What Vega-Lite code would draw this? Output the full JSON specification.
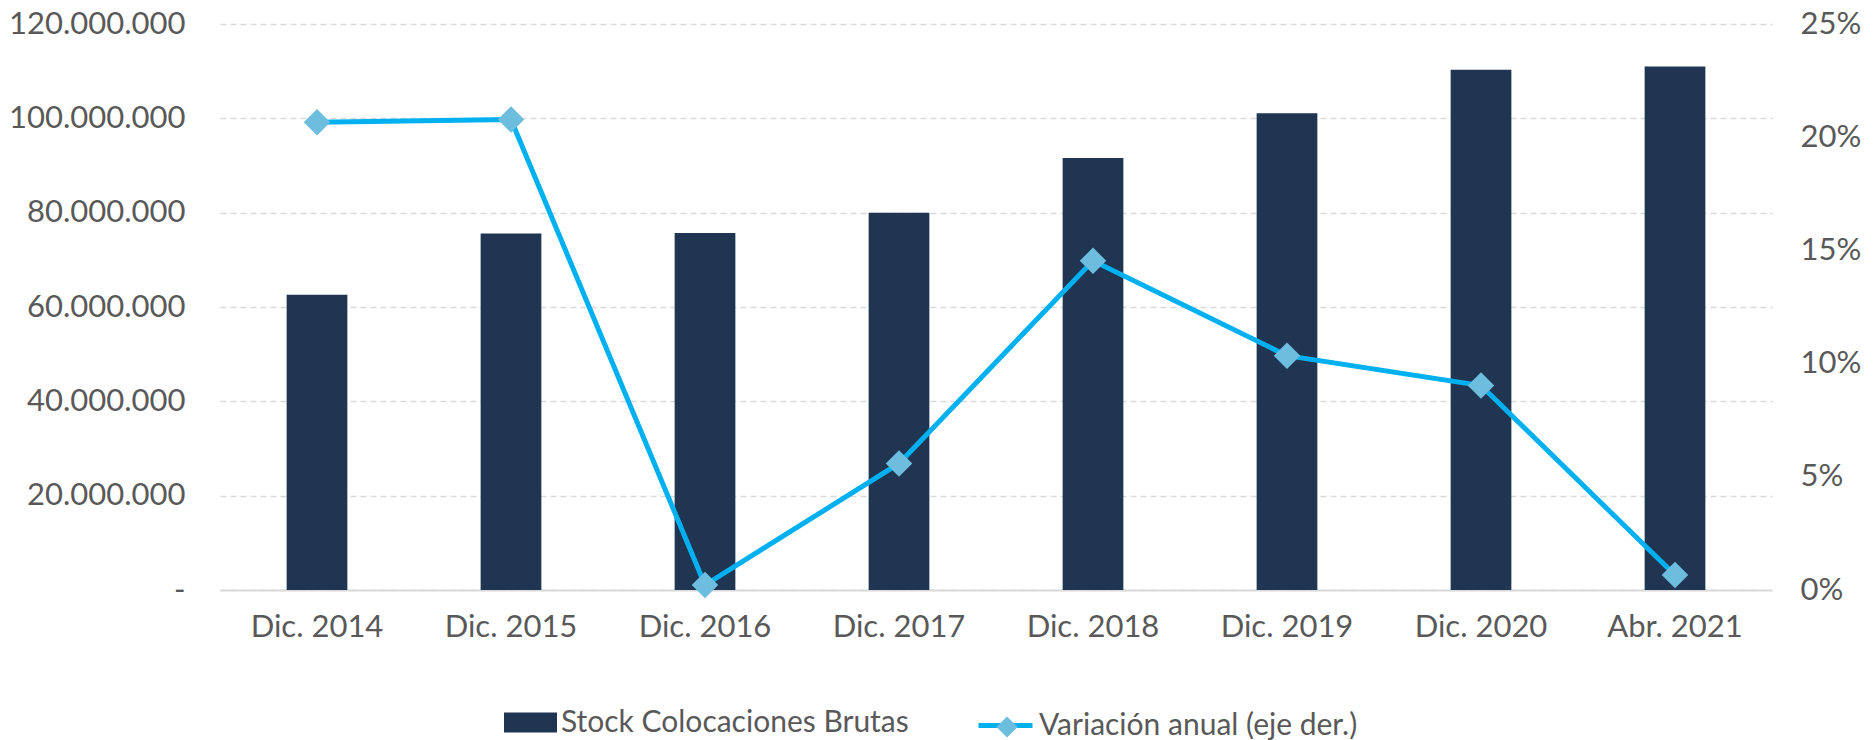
{
  "$schema": "https://vega.github.io/schema/vega-lite/v6.json",
  "width": 1552,
  "height": 566,
  "autosize": {"type": "none"},
  "padding": {"left": 220, "top": 24, "right": 101, "bottom": 150},
  "background": "#ffffff",
  "config": {
    "view": {"stroke": null},
    "locale": {"number": {"decimal": ",", "thousands": ".", "grouping": [3], "currency": ["$", ""]}},
    "font": "Lato",
    "axis": {"labelFont": "Lato", "labelFontSize": 31, "labelColor": "#595959", "ticks": false, "title": null},
    "legend": {"labelFont": "Lato", "labelFontSize": 30, "labelColor": "#595959", "padding": 0, "title": null, "orient": "none", "labelLimit": 1000}
  },
  "data": {"values": [
    {"periodo": "Dic. 2014", "stock": 62600000, "var": 0.2066},
    {"periodo": "Dic. 2015", "stock": 75600000, "var": 0.2078},
    {"periodo": "Dic. 2016", "stock": 75700000, "var": 0.0022},
    {"periodo": "Dic. 2017", "stock": 80000000, "var": 0.0559},
    {"periodo": "Dic. 2018", "stock": 91600000, "var": 0.1454},
    {"periodo": "Dic. 2019", "stock": 101100000, "var": 0.1035},
    {"periodo": "Dic. 2020", "stock": 110300000, "var": 0.0903},
    {"periodo": "Abr. 2021", "stock": 111000000, "var": 0.0066}
  ]},
  "encoding": {
    "x": {
      "field": "periodo", "type": "nominal", "sort": null,
      "scale": {"paddingInner": 0.687, "paddingOuter": 0.3435},
      "axis": {"labelAngle": 0, "labelPadding": 22, "domainColor": "#D9D9D9", "domainWidth": 2, "grid": false, "title": null}
    }
  },
  "layer": [
    {
      "mark": {"type": "bar"},
      "encoding": {
        "y": {
          "field": "stock", "type": "quantitative",
          "scale": {"domain": [0, 120000000]},
          "axis": {
            "values": [0, 20000000, 40000000, 60000000, 80000000, 100000000, 120000000],
            "format": ",d",
            "labelExpr": "datum.value === 0 ? '-' : datum.label",
            "grid": true, "gridDash": [6, 4], "gridColor": "#D9D9D9", "gridWidth": 1.5,
            "domain": false, "labelPadding": 35, "title": null
          }
        },
        "fill": {
          "datum": "Stock Colocaciones Brutas",
          "scale": {"range": ["#203552"]},
          "legend": {"legendX": 284, "legendY": 672, "symbolType": "M-1,-0.38H1V0.38H-1Z", "symbolSize": 2809, "symbolStrokeWidth": 0, "labelOffset": 4}
        }
      }
    },
    {
      "encoding": {
        "y": {
          "field": "var", "type": "quantitative",
          "scale": {"domain": [0, 0.25]},
          "axis": {
            "orient": "right", "format": ".0%",
            "values": [0, 0.05, 0.1, 0.15, 0.2, 0.25],
            "grid": false, "domain": false, "labelPadding": 28, "title": null
          }
        }
      },
      "layer": [
        {
          "mark": {"type": "line", "strokeWidth": 5},
          "encoding": {
            "stroke": {
              "datum": "Variación anual (eje der.)",
              "scale": {"range": ["#00B0F0"]},
              "legend": {"legendX": 756, "legendY": 672, "symbolType": "stroke", "symbolSize": 2916, "symbolStrokeWidth": 5, "labelOffset": 4}
            }
          }
        },
        {
          "mark": {"type": "point", "filled": true, "fill": "#6DBDDE", "opacity": 1, "size": 700, "strokeWidth": 0},
          "encoding": {
            "shape": {
              "datum": "diamante",
              "scale": {"range": ["diamond"]},
              "legend": {"legendX": 772, "legendY": 688, "symbolSize": 450, "symbolFillColor": "#6DBDDE", "symbolStrokeWidth": 0, "symbolOpacity": 1, "labelExpr": "''", "labelOpacity": 0}
            }
          }
        }
      ]
    }
  ],
  "resolve": {"scale": {"y": "independent"}}
}
